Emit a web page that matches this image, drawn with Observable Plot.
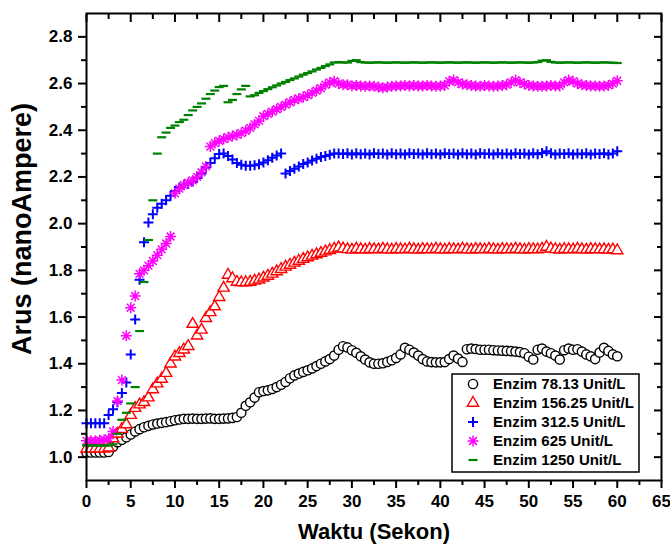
<!DOCTYPE html>
<html><head><meta charset="utf-8">
<script src="https://cdn.jsdelivr.net/npm/d3@7"></script>
<script src="https://cdn.jsdelivr.net/npm/@observablehq/plot@0.6"></script>
<style>html,body{margin:0;padding:0;background:#fff;}</style>
</head><body><div id="chart"></div>
<script>
// sampling interval of every series, seconds (value i is at time i*step)
const step = 0.5;

const enzim78 = [
1.02,1.02,1.02,1.02,1.02,1.022,1.045,1.064,1.074,1.085,
1.097,1.11,1.12,1.128,1.134,1.14,1.144,1.147,1.15,1.154,
1.158,1.161,1.164,1.164,1.165,1.164,1.164,1.165,1.166,1.164,
1.164,1.165,1.166,1.168,1.172,1.19,1.22,1.235,1.255,1.278,
1.283,1.286,1.292,1.30,1.31,1.322,1.338,1.35,1.358,1.365,
1.372,1.38,1.39,1.40,1.41,1.42,1.435,1.46,1.475,1.47,
1.458,1.447,1.432,1.418,1.406,1.40,1.40,1.402,1.408,1.415,
1.425,1.44,1.468,1.46,1.448,1.435,1.42,1.41,1.407,1.406,
1.406,1.407,1.42,1.435,1.422,1.408,1.462,1.465,1.463,1.46,
1.46,1.46,1.458,1.457,1.456,1.455,1.454,1.452,1.45,1.445,
1.43,1.418,1.46,1.465,1.452,1.445,1.435,1.418,1.458,1.465,
1.46,1.462,1.452,1.44,1.432,1.42,1.448,1.468,1.455,1.44,
1.432];

const enzim156 = [
1.036,1.036,1.036,1.036,1.036,1.04,1.08,1.10,1.12,1.14,
1.18,1.21,1.225,1.235,1.255,1.29,1.315,1.335,1.36,1.40,
1.43,1.445,1.46,1.475,1.57,1.52,1.545,1.595,1.62,1.645,
1.685,1.725,1.78,1.765,1.75,1.748,1.748,1.75,1.755,1.76,
1.768,1.776,1.785,1.795,1.805,1.815,1.823,1.832,1.84,1.848,
1.855,1.862,1.868,1.874,1.88,1.886,1.892,1.897,1.893,1.89,
1.888,1.892,1.89,1.888,1.891,1.89,1.889,1.892,1.89,1.888,
1.891,1.89,1.889,1.892,1.89,1.888,1.891,1.89,1.889,1.892,
1.89,1.888,1.891,1.89,1.889,1.892,1.89,1.888,1.891,1.89,
1.889,1.892,1.89,1.888,1.891,1.89,1.889,1.892,1.89,1.888,
1.891,1.89,1.889,1.892,1.9,1.893,1.89,1.888,1.891,1.89,
1.889,1.892,1.89,1.888,1.891,1.89,1.889,1.89,1.888,1.889,
1.885];

const enzim312 = [
1.145,1.145,1.145,1.145,1.145,1.18,1.205,1.235,1.275,1.32,
1.44,1.59,1.76,1.92,2.005,2.04,2.068,2.085,2.10,2.12,
2.14,2.155,2.165,2.17,2.18,2.195,2.215,2.24,2.26,2.28,
2.298,2.30,2.29,2.275,2.26,2.252,2.248,2.248,2.25,2.254,
2.262,2.272,2.282,2.292,2.30,2.215,2.225,2.235,2.245,2.255,
2.262,2.27,2.278,2.285,2.29,2.295,2.30,2.30,2.298,2.302,
2.296,2.302,2.297,2.3,2.296,2.302,2.298,2.3,2.296,2.302,
2.297,2.3,2.296,2.302,2.298,2.3,2.296,2.302,2.297,2.3,
2.296,2.302,2.298,2.3,2.296,2.302,2.297,2.3,2.296,2.302,
2.298,2.3,2.296,2.302,2.297,2.3,2.296,2.302,2.298,2.3,
2.296,2.302,2.297,2.303,2.31,2.302,2.296,2.3,2.298,2.302,
2.296,2.3,2.297,2.302,2.296,2.3,2.298,2.302,2.296,2.3,
2.31];

const enzim625 = [
1.07,1.07,1.07,1.072,1.075,1.08,1.11,1.24,1.33,1.52,
1.64,1.69,1.785,1.80,1.82,1.84,1.865,1.89,1.915,1.945,
2.13,2.15,2.165,2.175,2.185,2.20,2.22,2.245,2.33,2.345,
2.355,2.362,2.37,2.375,2.38,2.388,2.398,2.41,2.425,2.44,
2.46,2.47,2.48,2.49,2.50,2.51,2.52,2.53,2.535,2.542,
2.55,2.56,2.57,2.58,2.595,2.605,2.61,2.60,2.595,2.595,
2.59,2.592,2.59,2.588,2.59,2.588,2.585,2.582,2.585,2.588,
2.59,2.59,2.592,2.59,2.592,2.59,2.59,2.592,2.59,2.588,
2.59,2.592,2.61,2.615,2.605,2.598,2.595,2.592,2.59,2.588,
2.592,2.59,2.588,2.59,2.592,2.595,2.605,2.615,2.605,2.598,
2.592,2.59,2.588,2.588,2.59,2.592,2.59,2.59,2.605,2.615,
2.61,2.6,2.595,2.592,2.59,2.59,2.588,2.59,2.592,2.6,
2.612];

const enzim1250 = [
1.05,1.05,1.05,1.05,1.05,1.05,1.055,1.10,1.16,1.19,
1.23,1.30,1.54,1.75,1.93,2.10,2.30,2.37,2.39,2.41,
2.42,2.435,2.445,2.465,2.485,2.50,2.515,2.535,2.555,2.57,
2.585,2.59,2.52,2.53,2.555,2.575,2.59,2.545,2.55,2.56,
2.568,2.576,2.584,2.592,2.60,2.607,2.615,2.622,2.63,2.638,
2.645,2.652,2.66,2.667,2.675,2.682,2.69,2.692,2.69,2.69,
2.697,2.70,2.692,2.69,2.689,2.69,2.691,2.69,2.689,2.69,
2.691,2.69,2.689,2.69,2.691,2.69,2.689,2.69,2.691,2.69,
2.689,2.69,2.691,2.69,2.689,2.69,2.691,2.69,2.689,2.69,
2.691,2.69,2.689,2.69,2.691,2.69,2.689,2.69,2.691,2.69,
2.689,2.69,2.692,2.698,2.70,2.693,2.69,2.689,2.69,2.691,
2.69,2.689,2.69,2.691,2.69,2.689,2.69,2.691,2.69,2.689,
2.688];

const seriesNames = ["Enzim 78.13 Unit/L","Enzim 156.25 Unit/L","Enzim 312.5 Unit/L","Enzim 625 Unit/L","Enzim 1250 Unit/L"];
const seriesColors = ["#000000","#ff0000","#0000ff","#ff00ff","#008000"];

const xMajorTicks = [0,5,10,15,20,25,30,35,40,45,50,55,60,65];
const xMinorTicks = [2.5,7.5,12.5,17.5,22.5,27.5,32.5,37.5,42.5,47.5,52.5,57.5,62.5];
const yMajorTicks = [1.0,1.2,1.4,1.6,1.8,2.0,2.2,2.4,2.6,2.8];
const yMinorTicks = [1.1,1.3,1.5,1.7,1.9,2.1,2.3,2.5,2.7];

const rows = (values, name) => values.map((v, i) => ({t: i * step, v, name}));

// stroke symbols (extent = radius derived from size)
const rad = size => Math.sqrt(size / Math.PI);
const symPlus = {draw(c, s){const r = rad(s); c.moveTo(-r,0); c.lineTo(r,0); c.moveTo(0,-r); c.lineTo(0,r);}};
const symStar = {draw(c, s){const r = rad(s), d = r*Math.SQRT1_2;
  c.moveTo(-r,0); c.lineTo(r,0); c.moveTo(0,-r); c.lineTo(0,r);
  c.moveTo(-d,-d); c.lineTo(d,d); c.moveTo(-d,d); c.lineTo(d,-d);}};
const symTri = {draw(c, s){const r = rad(s); c.moveTo(0,-r); c.lineTo(r*0.866,r*0.5); c.lineTo(-r*0.866,r*0.5); c.closePath();}};
const symDash = {draw(c, s){const r = rad(s); c.moveTo(-r,0); c.lineTo(r,0);}};

const styles = [
  {symbol: "circle", r: 4.6, fill: "white", strokeWidth: 1.4},
  {symbol: symTri, r: 6.5, fill: "white", strokeWidth: 1.4},
  {symbol: symPlus, r: 5, fill: "none", strokeWidth: 2},
  {symbol: symStar, r: 5.5, fill: "none", strokeWidth: 1.5},
  {symbol: symDash, r: 4.5, fill: "none", strokeWidth: 2.2}
];
const allSeries = [enzim78, enzim156, enzim312, enzim625, enzim1250];

const font = "'Liberation Sans', Arial, Helvetica, sans-serif";

const chart = Plot.plot({
  width: 670, height: 551,
  marginLeft: 86, marginRight: 9, marginTop: 13, marginBottom: 71,
  x: {domain: [0, 65], label: null},
  y: {domain: [0.9, 2.9], label: null},
  style: {fontFamily: font, fontWeight: "bold", fontSize: "17px", color: "black", background: "white", overflow: "visible"},
  marks: [
    ...allSeries.map((vals, i) => Plot.dot(rows(vals, seriesNames[i]), {
      x: "t", y: "v", stroke: seriesColors[i], ...styles[i]
    })),
    Plot.frame({stroke: "black", strokeWidth: 2}),
    Plot.axisX(xMajorTicks, {anchor: "bottom", tickSize: 8, tickPadding: 6, strokeWidth: 2, label: null, tickFormat: d => String(d)}),
    Plot.axisX(xMinorTicks, {anchor: "bottom", tickSize: 5, strokeWidth: 2, label: null, fill: "none"}),
    Plot.axisX(xMajorTicks, {anchor: "top", tickSize: 8, dy: 8, strokeWidth: 2, label: null, fill: "none"}),
    Plot.axisX(xMinorTicks, {anchor: "top", tickSize: 5, dy: 5, strokeWidth: 2, label: null, fill: "none"}),
    Plot.axisY(yMajorTicks, {anchor: "left", tickSize: 8, tickPadding: 6, strokeWidth: 2, label: null, tickFormat: d3.format(".1f")}),
    Plot.axisY(yMinorTicks, {anchor: "left", tickSize: 5, strokeWidth: 2, label: null, fill: "none"}),
    Plot.axisY(yMajorTicks, {anchor: "right", tickSize: 8, dx: -8, strokeWidth: 2, label: null, fill: "none"}),
    Plot.axisY(yMinorTicks, {anchor: "right", tickSize: 5, dx: -5, strokeWidth: 2, label: null, fill: "none"}),
    Plot.text(["Waktu (Sekon)"], {frameAnchor: "bottom", text: d => d, dy: 43, lineAnchor: "top", fontSize: 22, fontWeight: "bold"})
  ]
});
document.getElementById("chart").append(chart);

const svg = d3.select(chart);

// y-axis title
svg.append("text")
  .attr("transform", "translate(31,229) rotate(-90)")
  .attr("text-anchor", "middle").attr("font-family", font).attr("font-weight", "bold")
  .attr("font-size", 27).attr("fill", "black")
  .text("Arus (nanoAmpere)");

// legend
const lg = svg.append("g").attr("font-family", font).attr("font-weight", "bold").attr("font-size", 15);
lg.append("rect").attr("x", 452).attr("y", 374).attr("width", 187).attr("height", 98)
  .attr("fill", "white").attr("stroke", "black").attr("stroke-width", 1.5);
seriesNames.forEach((name, i) => {
  const cy = 384 + i * 19;
  const st = styles[i];
  const type = st.symbol === "circle" ? d3.symbolCircle : st.symbol;
  lg.append("path").attr("transform", `translate(473,${cy})`)
    .attr("d", d3.symbol(type, Math.PI * st.r * st.r)())
    .attr("fill", st.fill).attr("stroke", seriesColors[i]).attr("stroke-width", st.strokeWidth);
  lg.append("text").attr("x", 493).attr("y", cy).attr("dy", "0.36em")
    .attr("text-anchor", "start").attr("fill", "black").text(name);
});
</script>
</body></html>
